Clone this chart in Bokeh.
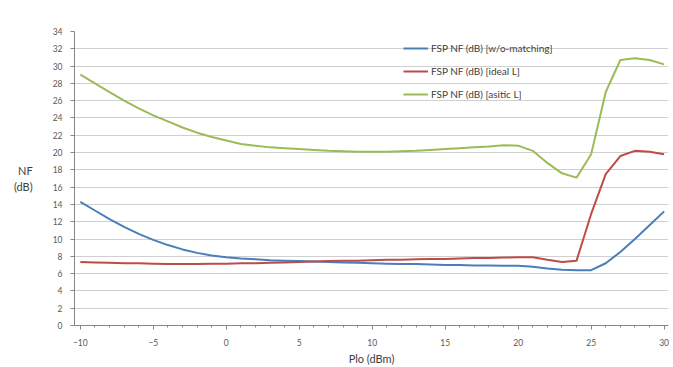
from bokeh.plotting import figure
from bokeh.models import Range1d, FixedTicker, Legend, LegendItem, ColumnDataSource
from bokeh.embed import file_html
from bokeh.resources import INLINE

plo = list(range(-10, 31))
nf_wo = [14.3, 13.3, 12.3, 11.4, 10.6, 9.9, 9.3, 8.8, 8.4, 8.1, 7.9,
         7.75, 7.65, 7.55, 7.5, 7.45, 7.4, 7.35, 7.3, 7.25, 7.2,
         7.15, 7.1, 7.1, 7.05, 7.0, 7.0, 6.95, 6.95, 6.9, 6.9,
         6.8, 6.6, 6.45, 6.4, 6.4, 7.2, 8.5, 10.0, 11.6, 13.2]
nf_ideal = [7.35, 7.3, 7.25, 7.2, 7.2, 7.15, 7.1, 7.1, 7.1, 7.15, 7.15,
            7.2, 7.2, 7.25, 7.3, 7.35, 7.4, 7.45, 7.5, 7.5, 7.55,
            7.6, 7.6, 7.65, 7.7, 7.7, 7.75, 7.8, 7.8, 7.85, 7.9,
            7.9, 7.6, 7.35, 7.5, 12.9, 17.5, 19.6, 20.2, 20.1, 19.8]
nf_asitic = [29.0, 28.0, 27.0, 26.0, 25.1, 24.3, 23.6, 22.9, 22.3, 21.8, 21.4,
             21.0, 20.8, 20.6, 20.5, 20.4, 20.3, 20.2, 20.15, 20.1, 20.1,
             20.1, 20.15, 20.2, 20.3, 20.4, 20.5, 20.6, 20.7, 20.85, 20.8,
             20.2, 18.8, 17.6, 17.1, 19.8, 27.0, 30.7, 30.9, 30.7, 30.2]

series_names = ["FSP NF (dB) [w/o-matching]", "FSP NF (dB) [ideal L]", "FSP NF (dB) [asitic L]"]
series_colors = ["#4A7EBB", "#BE4B48", "#9BBB59"]
x_ticks = [-10, -5, 0, 5, 10, 15, 20, 25, 30]
x_minor = list(range(-10, 31))
y_ticks = list(range(0, 35, 2))
x_title = "Plo (dBm)"
y_title = "NF\n(dB)"

FONT = "Lato"

p = figure(width=673, height=367, output_backend="svg", toolbar_location=None,
           x_range=Range1d(-10.4, 30.3), y_range=Range1d(0, 34),
           min_border_left=74, min_border_right=5, min_border_top=31, min_border_bottom=40)
p.background_fill_color = "white"
p.border_fill_color = "white"
p.outline_line_color = None

src = ColumnDataSource(dict(x=plo, a=nf_wo, b=nf_ideal, c=nf_asitic))
renderers = []
for col, color in zip(["a", "b", "c"], series_colors):
    r = p.line("x", col, source=src, line_color=color, line_width=2)
    renderers.append(r)

legend = Legend(items=[LegendItem(label=n, renderers=[r]) for n, r in zip(series_names, renderers)],
                location=(329, 223), padding=0, margin=0, spacing=7,
                glyph_width=25, glyph_height=16, label_height=16, label_standoff=3,
                label_text_font=FONT, label_text_font_size="10px", label_text_color="#404040",
                border_line_color=None, background_fill_alpha=0)
p.add_layout(legend, "center")

p.xgrid.grid_line_color = None
p.ygrid.ticker = FixedTicker(ticks=y_ticks)
p.ygrid.grid_line_color = "#d0d0d0"
p.ygrid.grid_line_width = 1

p.xaxis.ticker = FixedTicker(ticks=x_ticks, minor_ticks=x_minor)
p.yaxis.ticker = FixedTicker(ticks=y_ticks)
for ax in (p.xaxis, p.yaxis):
    ax.axis_line_color = "#868686"
    ax.major_tick_line_color = "#868686"
    ax.minor_tick_line_color = "#868686"
    ax.major_tick_in = 0
    ax.minor_tick_in = 0
    ax.major_label_text_font = FONT
    ax.major_label_text_font_size = "8.5px"
    ax.major_label_text_color = "#595959"
    ax.axis_label_text_font = FONT
    ax.axis_label_text_font_size = "11px"
    ax.axis_label_text_font_style = "normal"
    ax.axis_label_text_color = "#404040"
p.xaxis.major_tick_out = 4
p.xaxis.minor_tick_out = 2
p.yaxis.major_tick_out = 4
p.yaxis.minor_tick_line_color = None
p.xaxis.major_label_standoff = 9
p.yaxis.major_label_standoff = 8
p.xaxis.axis_label = x_title
p.xaxis.axis_label_standoff = 3
p.yaxis.axis_label = y_title
p.yaxis.axis_label_orientation = "horizontal"
p.yaxis.axis_label_standoff = 17
p.yaxis.axis_label_text_align = "center"

open("out.html", "w").write(file_html(p, INLINE))
